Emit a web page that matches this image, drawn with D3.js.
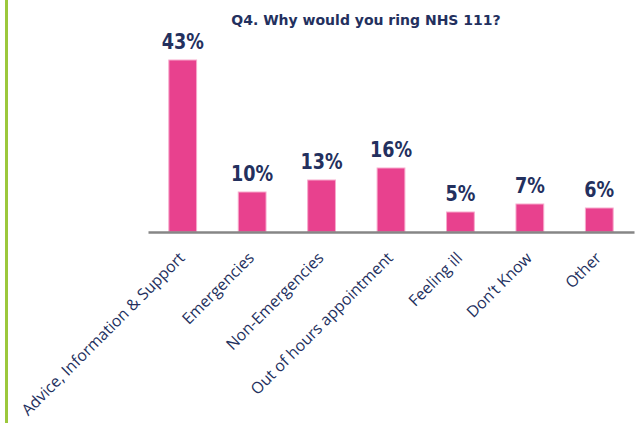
<!DOCTYPE html>
<html>
<head>
<meta charset="utf-8">
<script src="https://d3js.org/d3.v7.min.js"></script>
<style>
  body { margin: 0; background: #fff; }
  .title { font-family: "DejaVu Sans", sans-serif; font-weight: bold; font-size: 14px; fill: #23305e; }
  .valueLabel { font-family: "DejaVu Sans", sans-serif; font-weight: bold; font-size: 22px; fill: #23305e; }
  .catLabel { font-family: "Open Sans", sans-serif; font-size: 15.8px; fill: #23305e; }
</style>
</head>
<body>
<div id="chart"></div>
<script>
// chart data
var categories = ["Advice, Information & Support", "Emergencies", "Non-Emergencies",
                  "Out of hours appointment", "Feeling ill", "Don\u2019t Know", "Other"];
var values = [43, 10, 13, 16, 5, 7, 6];
var title = "Q4. Why would you ring NHS 111?";

var width = 641, height = 423;

var svg = d3.select("#chart")
  .append("svg")
    .attr("width", width)
    .attr("height", height);

// green rule on the left
svg.append("line")
  .attr("x1", 6.5).attr("x2", 6.5)
  .attr("y1", 0).attr("y2", height)
  .attr("stroke", "#9cc83c")
  .attr("stroke-width", 3);

// scales
var x = d3.scaleBand()
  .domain(categories)
  .range([148, 634])
  .paddingInner(0.6)
  .paddingOuter(0.3);

var y = d3.scaleLinear()
  .domain([0, 43])
  .range([232, 60]);

// title
svg.append("text")
  .attr("class", "title")
  .attr("x", 366)
  .attr("y", 25)
  .attr("text-anchor", "middle")
  .text(title);

// bars
svg.selectAll(".bar")
  .data(values)
  .enter()
  .append("rect")
    .attr("class", "bar")
    .attr("x", function(d, i) { return x(categories[i]); })
    .attr("y", function(d) { return y(d); })
    .attr("width", x.bandwidth())
    .attr("height", function(d) { return y(0) - y(d); })
    .attr("fill", "#e8418e")
    .attr("stroke", "#f7a9cc")
    .attr("stroke-width", 1);

// value labels (font is a bit narrower in the original, so squeeze it)
svg.selectAll(".valueLabel")
  .data(values)
  .enter()
  .append("text")
    .attr("class", "valueLabel")
    .attr("transform", function(d, i) {
      return "translate(" + (x(categories[i]) + x.bandwidth() / 2) + "," + (y(d) - 11) + ") scale(0.8,1)";
    })
    .attr("text-anchor", "middle")
    .text(function(d) { return d + "%"; });

// x axis baseline
var xAxis = svg.append("g")
  .attr("transform", "translate(0," + y(0) + ")")
  .call(d3.axisBottom(x).tickSize(0).tickSizeOuter(0));

xAxis.select(".domain")
  .attr("stroke", "#868686")
  .attr("stroke-width", 2.5);

xAxis.selectAll(".tick text")
  .attr("class", "catLabel")
  .attr("font-family", null)
  .attr("font-size", null)
  .attr("fill", null)
  .attr("text-anchor", "end")
  .attr("x", 0)
  .attr("y", 0)
  .attr("dy", 0)
  .attr("transform", "translate(3,27) rotate(-45)");
</script>
</body>
</html>
